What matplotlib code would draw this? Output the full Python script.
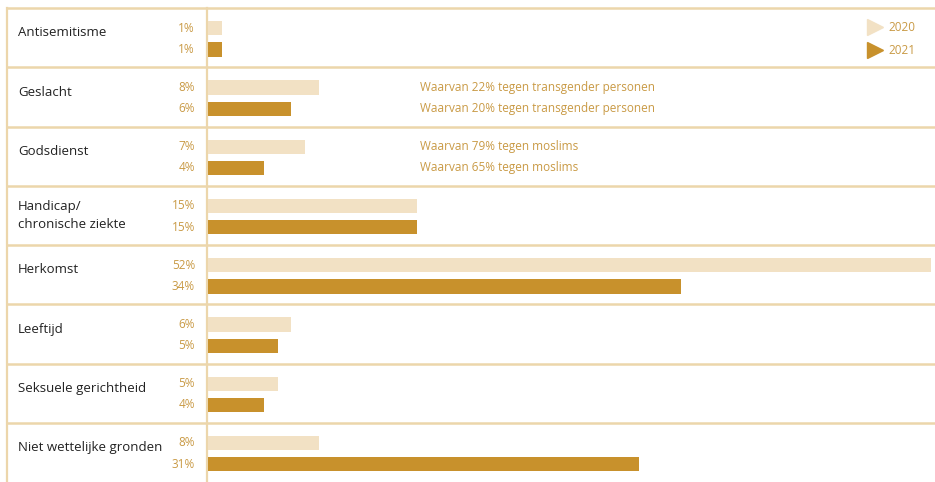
import matplotlib.pyplot as plt
from matplotlib.lines import Line2D

plt.rcParams['font.family'] = ['Open Sans', 'DejaVu Sans']

categories = ['Antisemitisme', 'Geslacht', 'Godsdienst', 'Handicap/\nchronische ziekte',
              'Herkomst', 'Leeftijd', 'Seksuele gerichtheid', 'Niet wettelijke gronden']
v2020 = [1, 8, 7, 15, 52, 6, 5, 8]
v2021 = [1, 6, 4, 15, 34, 5, 4, 31]
notes2020 = ['', 'Waarvan 22% tegen transgender personen', 'Waarvan 79% tegen moslims', '', '', '', '', '']
notes2021 = ['', 'Waarvan 20% tegen transgender personen', 'Waarvan 65% tegen moslims', '', '', '', '', '']

c20 = '#f2e1c4'
c21 = '#c8912c'
cline = '#ecd6ab'
ctxt = '#c99a45'

W, H = 935, 482
fig = plt.figure(figsize=(W / 100, H / 100), dpi=100)
fig.patch.set_facecolor('white')

# background axes in pixel units for the grid lines
bg = fig.add_axes([0, 0, 1, 1])
bg.set_xlim(0, W)
bg.set_ylim(H, 0)
bg.axis('off')

x0 = 208
top = 8
rowh = (H - top) / len(categories)
bg.plot([7, 7], [top, H], color=cline, lw=1.6)
bg.plot([x0 - 1, x0 - 1], [top, H], color=cline, lw=1.6)
for i in range(len(categories)):
    y = top + i * rowh
    bg.plot([7, W], [y, y], color=cline, lw=1.8)

# bars axes
ax = fig.add_axes([x0 / W, 0, (W - x0) / W, (H - top) / H])
ax.set_xlim(0, (W - x0) / 13.9)
ax.set_ylim(len(categories), 0)
ax.axis('off')

y20 = [i + 0.34 for i in range(len(categories))]
y21 = [i + 0.70 for i in range(len(categories))]
ax.barh(y20, v2020, height=0.24, color=c20, align='center')
ax.barh(y21, v2021, height=0.24, color=c21, align='center')

for i, cat in enumerate(categories):
    ycat = i + (0.5 if '\n' in cat else 0.42)
    ax.text(-190 / 13.9, ycat, cat, fontsize=9.5, color='#222222', ha='left', va='center',
            linespacing=1.5)
    ax.text(-13 / 13.9, y20[i], f'{v2020[i]}%', fontsize=8.5, color=ctxt, ha='right', va='center')
    ax.text(-13 / 13.9, y21[i], f'{v2021[i]}%', fontsize=8.5, color=ctxt, ha='right', va='center')
    if notes2020[i]:
        ax.text(212 / 13.9, y20[i], notes2020[i], fontsize=8.5, color=ctxt, ha='left', va='center')
    if notes2021[i]:
        ax.text(212 / 13.9, y21[i], notes2021[i], fontsize=8.5, color=ctxt, ha='left', va='center')

handles = [Line2D([], [], marker='>', color=c20, ls='', markersize=12, label='2020'),
           Line2D([], [], marker='>', color=c21, ls='', markersize=12, label='2021')]
leg = ax.legend(handles=handles, loc='upper right', bbox_to_anchor=(0.99, 0.998), frameon=False,
                fontsize=8.5, labelcolor=ctxt, handletextpad=0.6, labelspacing=0.85,
                borderaxespad=0.0, borderpad=1.0, handlelength=1.2)

fig.savefig('out.png', dpi=100)
